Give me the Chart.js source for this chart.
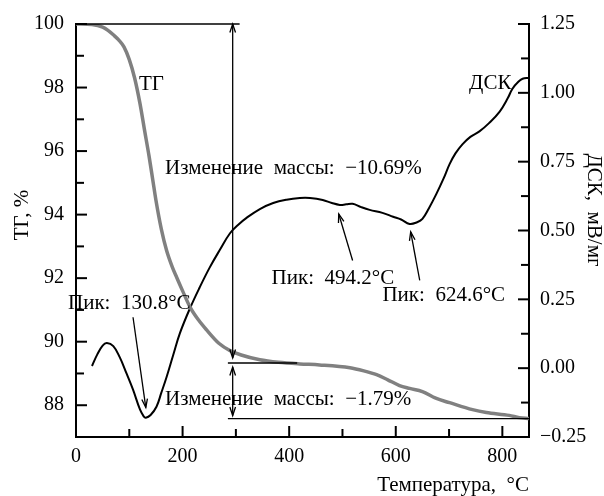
<!DOCTYPE html>
<html>
<head>
<meta charset="utf-8">
<script src="https://cdn.jsdelivr.net/npm/chart.js@4.4.0/dist/chart.umd.min.js"></script>
<style>
  html, body { margin: 0; padding: 0; background: #fff; }
  #wrap { width: 604px; height: 496px; }
</style>
</head>
<body>
<div id="wrap"><canvas id="tgChart" width="604" height="496"></canvas></div>
<script>
// TG curve (mass, %) vs temperature
const tgTemp = [0, 30, 50, 60, 70, 80, 90, 100, 110, 120, 129, 137, 144, 150, 160, 170, 180, 189, 200, 214, 230, 245, 268, 289, 310, 345, 380, 420, 457, 514, 540, 564, 585, 607, 626, 650, 675, 701, 744, 770, 813, 832, 850];
const tgMass = [100, 99.98, 99.9, 99.8, 99.66, 99.5, 99.28, 98.88, 98.3, 97.5, 96.62, 95.85, 95.1, 94.45, 93.55, 92.87, 92.38, 92.02, 91.6, 91.09, 90.68, 90.37, 89.95, 89.72, 89.58, 89.43, 89.35, 89.3, 89.27, 89.18, 89.08, 88.96, 88.8, 88.62, 88.53, 88.43, 88.22, 88.08, 87.86, 87.77, 87.68, 87.61, 87.58];

// DSC curve (mV/mg) vs temperature
const dscTemp = [30, 40, 50, 58, 70, 82, 95, 107, 120, 127, 131, 140, 151, 160, 170, 182, 195, 214, 232, 251, 270, 289, 305, 320, 345, 370, 395, 420, 439, 463, 480, 495, 507, 519, 535, 551, 575, 595, 610, 626, 640, 650, 662, 676, 690, 701, 712, 725, 740, 757, 775, 795, 810, 819, 830, 838, 850];
const dscValue = [0.008, 0.05, 0.082, 0.091, 0.08, 0.04, -0.02, -0.078, -0.15, -0.175, -0.18, -0.17, -0.14, -0.09, -0.032, 0.045, 0.127, 0.218, 0.293, 0.366, 0.43, 0.49, 0.522, 0.546, 0.578, 0.6, 0.612, 0.618, 0.618, 0.611, 0.60, 0.593, 0.595, 0.597, 0.585, 0.575, 0.564, 0.55, 0.54, 0.524, 0.53, 0.542, 0.58, 0.632, 0.69, 0.741, 0.78, 0.813, 0.84, 0.86, 0.89, 0.932, 0.98, 1.015, 1.04, 1.051, 1.055];

// mass change brackets (TG levels)
const massLevels = [100, 89.33, 87.58];
const massChanges = ['−10.69%', '−1.79%'];

// DSC peaks: label, arrow tip [T, DSC], arrow tail [T, DSC], label left/centre [T, DSC]
const peaks = [
  { text: 'Пик:  130.8°C', tip: [131, -0.143], tail: [107, 0.185], at: [-15, 0.236] },
  { text: 'Пик:  494.2°C', tip: [493, 0.56], tail: [519, 0.391], at: [367, 0.326] },
  { text: 'Пик:  624.6°C', tip: [628, 0.495], tail: [645, 0.319], at: [575, 0.265] }
];

const SERIF = '"Liberation Serif", "Times New Roman", serif';

function toXY(xs, ys) {
  return xs.map((x, i) => ({ x: x, y: ys[i] }));
}

function arrowHead(ctx, x0, y0, x1, y1) {
  const a = Math.atan2(y1 - y0, x1 - x0);
  const len = 9, w = 0.32;
  ctx.beginPath();
  ctx.moveTo(x1 - len * Math.cos(a - w), y1 - len * Math.sin(a - w));
  ctx.lineTo(x1, y1);
  ctx.lineTo(x1 - len * Math.cos(a + w), y1 - len * Math.sin(a + w));
  ctx.stroke();
}

function arrow(ctx, x0, y0, x1, y1, both) {
  ctx.beginPath();
  ctx.moveTo(x0, y0);
  ctx.lineTo(x1, y1);
  ctx.stroke();
  arrowHead(ctx, x0, y0, x1, y1);
  if (both) arrowHead(ctx, x1, y1, x0, y0);
}

// inward tick marks, titles and annotations
const decor = {
  id: 'decor',
  afterDraw(chart) {
    const ctx = chart.ctx;
    const { x, yTG, yDSC } = chart.scales;
    const area = chart.chartArea;
    ctx.save();
    ctx.strokeStyle = '#000';
    ctx.lineWidth = 2;

    // ticks
    x.ticks.forEach(t => {
      const px = x.getPixelForValue(t.value);
      const len = t.value % 200 === 0 ? 11 : 8;
      ctx.beginPath(); ctx.moveTo(px, area.bottom); ctx.lineTo(px, area.bottom - len); ctx.stroke();
    });
    yTG.ticks.forEach(t => {
      const py = yTG.getPixelForValue(t.value);
      const len = t.value % 2 === 0 ? 11 : 8;
      ctx.beginPath(); ctx.moveTo(area.left, py); ctx.lineTo(area.left + len, py); ctx.stroke();
    });
    yDSC.ticks.forEach(t => {
      const py = yDSC.getPixelForValue(t.value);
      const major = Math.abs(Math.round(t.value * 4) - t.value * 4) < 1e-6;
      const len = major ? 11 : 8;
      ctx.beginPath(); ctx.moveTo(area.right, py); ctx.lineTo(area.right - len, py); ctx.stroke();
    });

    // mass change brackets
    ctx.lineWidth = 1.3;
    const T0 = 294;
    const ax = x.getPixelForValue(T0);
    const lineSpans = [[0, 307], [285, 415], [285, 850]];
    massLevels.forEach((lv, i) => {
      const py = yTG.getPixelForValue(lv);
      ctx.beginPath();
      ctx.moveTo(x.getPixelForValue(lineSpans[i][0]), py);
      ctx.lineTo(x.getPixelForValue(lineSpans[i][1]), py);
      ctx.stroke();
    });
    arrow(ctx, ax, yTG.getPixelForValue(massLevels[1]) - 5, ax, yTG.getPixelForValue(massLevels[0]), true);
    arrow(ctx, ax, yTG.getPixelForValue(massLevels[2]) - 3, ax, yTG.getPixelForValue(massLevels[1]) + 4, true);

    // peak arrows
    peaks.forEach(p => {
      arrow(ctx, x.getPixelForValue(p.tail[0]), yDSC.getPixelForValue(p.tail[1]),
        x.getPixelForValue(p.tip[0]), yDSC.getPixelForValue(p.tip[1]), false);
    });

    // texts
    ctx.fillStyle = '#000';
    ctx.font = '21px ' + SERIF;
    ctx.textBaseline = 'middle';
    ctx.textAlign = 'left';
    ctx.fillText('Изменение  массы:  ' + massChanges[0], x.getPixelForValue(167), yTG.getPixelForValue(95.46));
    ctx.fillText('Изменение  массы:  ' + massChanges[1], x.getPixelForValue(167), yTG.getPixelForValue(88.18));
    peaks.forEach(p => {
      ctx.fillText(p.text, x.getPixelForValue(p.at[0]), yDSC.getPixelForValue(p.at[1]));
    });
    ctx.fillText('ТГ', x.getPixelForValue(118), yTG.getPixelForValue(98.1));
    ctx.textAlign = 'right';
    ctx.fillText('ДСК', x.getPixelForValue(817), yDSC.getPixelForValue(1.033));

    // axis titles
    ctx.textAlign = 'right';
    ctx.fillText('Температура,  °C', area.right, 485);
    ctx.textAlign = 'center';
    ctx.save();
    ctx.translate(22, 215);
    ctx.rotate(-Math.PI / 2);
    ctx.fillText('ТГ, %', 0, 0);
    ctx.restore();
    ctx.save();
    ctx.translate(594, 210);
    ctx.rotate(Math.PI / 2);
    ctx.fillText('ДСК,  мВ/мг', 0, 0);
    ctx.restore();
    ctx.restore();
  }
};

const tickFont = { family: SERIF, size: 20 };

new Chart(document.getElementById('tgChart'), {
  type: 'line',
  data: {
    datasets: [
      {
        label: 'ТГ',
        data: toXY(tgTemp, tgMass),
        yAxisID: 'yTG',
        borderColor: '#808080',
        borderWidth: 3.5,
        pointRadius: 0,
        cubicInterpolationMode: 'monotone',
        fill: false
      },
      {
        label: 'ДСК',
        data: toXY(dscTemp, dscValue),
        yAxisID: 'yDSC',
        borderColor: '#000',
        borderWidth: 2,
        pointRadius: 0,
        tension: 0.4,
        fill: false
      }
    ]
  },
  options: {
    responsive: false,
    animation: false,
    layout: { padding: { top: 22 } },
    plugins: { legend: { display: false }, tooltip: { enabled: false } },
    scales: {
      x: {
        type: 'linear',
        min: 0, max: 850,
        grid: { display: false, drawTicks: false },
        border: { color: '#000', width: 2 },
        ticks: {
          stepSize: 100, color: '#000', font: tickFont, padding: 8, maxRotation: 0,
          autoSkip: false, includeBounds: false,
          callback: v => (v % 200 === 0 ? String(v) : '')
        },
        afterFit: s => { s.height = 59; }
      },
      yTG: {
        type: 'linear',
        position: 'left',
        min: 87, max: 100,
        grid: { display: false, drawTicks: false },
        border: { color: '#000', width: 2 },
        ticks: {
          stepSize: 1, color: '#000', font: tickFont, padding: 12, autoSkip: false,
          callback: v => (v % 2 === 0 ? String(v) : '')
        },
        afterFit: s => { s.width = 76; }
      },
      yDSC: {
        type: 'linear',
        position: 'right',
        min: -0.25, max: 1.25,
        grid: { display: false, drawTicks: false },
        border: { color: '#000', width: 2 },
        ticks: {
          stepSize: 0.125, color: '#000', font: tickFont, padding: 11, autoSkip: false,
          callback: v => {
            const q = v * 4;
            if (Math.abs(q - Math.round(q)) > 1e-6) return '';
            return v.toFixed(2).replace('-', '−');
          }
        },
        afterFit: s => { s.width = 75; }
      }
    }
  },
  plugins: [decor]
});
</script>
</body>
</html>
